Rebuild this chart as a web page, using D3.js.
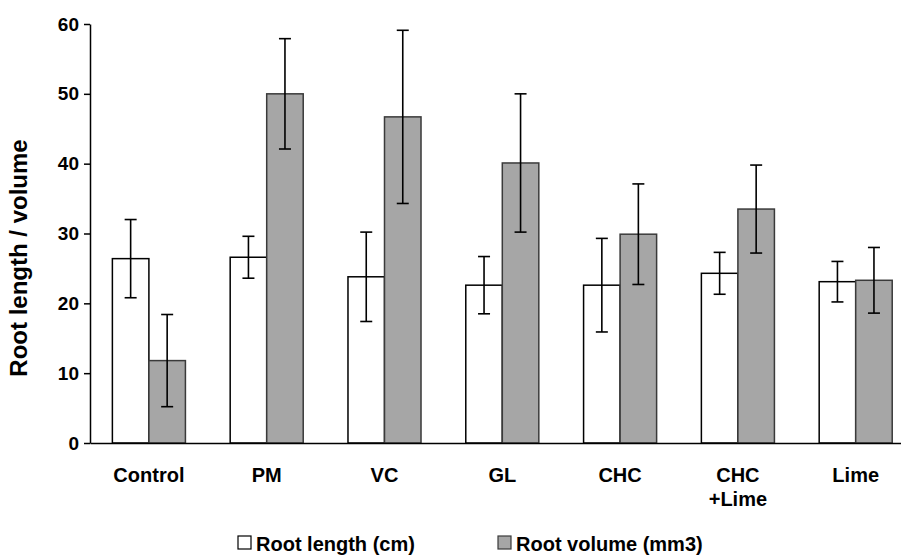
<!DOCTYPE html>
<head>
  <meta charset="utf-8">
  <script src="https://d3js.org/d3.v7.min.js"></script>
  <style>
    body { margin:0; background:#fff; }
    text { font-family: "Liberation Sans", Arial, sans-serif; font-weight: bold; fill: #000; }
  </style>
</head>
<body>
<script>
  // data
  var categories = ["Control", "PM", "VC", "GL", "CHC", "CHC\n+Lime", "Lime"]
  var seriesNames = ["Root length (cm)", "Root volume (mm3)"]
  var rootLength = [26.4, 26.6, 23.8, 22.6, 22.6, 24.3, 23.1]
  var rootLengthErr = [5.6, 3.0, 6.4, 4.1, 6.7, 3.0, 2.9]
  var rootVolume = [11.8, 50.0, 46.7, 40.1, 29.9, 33.5, 23.3]
  var rootVolumeErr = [6.6, 7.9, 12.4, 9.9, 7.2, 6.3, 4.7]
  var yTicks = [0, 10, 20, 30, 40, 50, 60]

  var width = 901, height = 555
  var svg = d3.select("body").append("svg")
    .attr("width", width)
    .attr("height", height)

  var x = d3.scaleBand()
    .domain(d3.range(categories.length))
    .range([90, 914.6])
    .paddingInner(0.38)
    .paddingOuter(0.19)

  var xs = d3.scaleBand()
    .domain([0, 1])
    .range([0, x.bandwidth()])

  var y = d3.scaleLinear()
    .domain([0, 60])
    .range([443, 24])

  var colors = ["#ffffff", "#a6a6a6"]
  var strokes = ["#000000", "#3a3a3a"]

  var rows = categories.map(function(c, i) {
    return { i: i, vals: [
      { s: 0, v: rootLength[i], e: rootLengthErr[i] },
      { s: 1, v: rootVolume[i], e: rootVolumeErr[i] }
    ] }
  })

  var groups = svg.selectAll(".grp").data(rows).enter()
    .append("g")
    .attr("class", "grp")
    .attr("transform", function(d) { return "translate(" + x(d.i) + ",0)" })

  groups.selectAll("rect").data(function(d) { return d.vals }).enter()
    .append("rect")
    .attr("x", function(d) { return xs(d.s) })
    .attr("y", function(d) { return y(d.v) })
    .attr("width", xs.bandwidth())
    .attr("height", function(d) { return y(0) - y(d.v) })
    .attr("fill", function(d) { return colors[d.s] })
    .attr("stroke", function(d) { return strokes[d.s] })
    .attr("stroke-width", 1.5)

  // error bars
  var err = groups.selectAll(".err").data(function(d) { return d.vals }).enter()
    .append("g")
    .attr("class", "err")
    .attr("stroke", "#000")
    .attr("stroke-width", 1.6)
  err.append("line")
    .attr("x1", function(d) { return xs(d.s) + xs.bandwidth() / 2 })
    .attr("x2", function(d) { return xs(d.s) + xs.bandwidth() / 2 })
    .attr("y1", function(d) { return y(d.v + d.e) })
    .attr("y2", function(d) { return y(d.v - d.e) })
  ;[1, -1].forEach(function(sg) {
    err.append("line")
      .attr("x1", function(d) { return xs(d.s) + xs.bandwidth() / 2 - 6 })
      .attr("x2", function(d) { return xs(d.s) + xs.bandwidth() / 2 + 6 })
      .attr("y1", function(d) { return y(d.v + sg * d.e) })
      .attr("y2", function(d) { return y(d.v + sg * d.e) })
  })

  // axes
  var yAxis = d3.axisLeft(y).tickValues(yTicks).tickSize(6).tickSizeOuter(0).tickPadding(5)
  var gy = svg.append("g").attr("transform", "translate(90,0)").call(yAxis)
  gy.selectAll("path, line").attr("stroke", "#000").attr("stroke-width", 1.5)
  gy.selectAll("text").style("font-size", "19px").attr("font-family", null)

  var xAxis = d3.axisBottom(x).tickSize(0).tickFormat("")
  var gx = svg.append("g").attr("transform", "translate(0,443)").call(xAxis)
  gx.select("path").attr("stroke", "#000").attr("stroke-width", 1.5)

  // category labels (two lines for CHC+Lime)
  svg.selectAll(".cat").data(categories).enter()
    .append("text")
    .attr("class", "cat")
    .attr("text-anchor", "middle")
    .style("font-size", "20px")
    .attr("transform", function(d, i) { return "translate(" + (x(i) + x.bandwidth() / 2) + ",482)" })
    .selectAll("tspan").data(function(d) { return d.split("\n") }).enter()
    .append("tspan")
    .attr("x", 0)
    .attr("dy", function(d, j) { return j ? 24 : 0 })
    .text(function(d) { return d })

  svg.append("text")
    .attr("transform", "translate(27,258) rotate(-90)")
    .attr("text-anchor", "middle")
    .style("font-size", "24px")
    .text("Root length / volume")

  // legend
  var legX = [238, 498]
  var leg = svg.selectAll(".leg").data(seriesNames).enter()
    .append("g")
    .attr("class", "leg")
    .attr("transform", function(d, i) { return "translate(" + legX[i] + ",536)" })
  leg.append("rect")
    .attr("width", 13).attr("height", 13)
    .attr("fill", function(d, i) { return colors[i] })
    .attr("stroke", function(d, i) { return i ? "#3a3a3a" : "#000" })
    .attr("stroke-width", 1.2)
  leg.append("text")
    .attr("x", 18).attr("y", 15)
    .style("font-size", "20px")
    .text(function(d) { return d })
</script>
</body>
